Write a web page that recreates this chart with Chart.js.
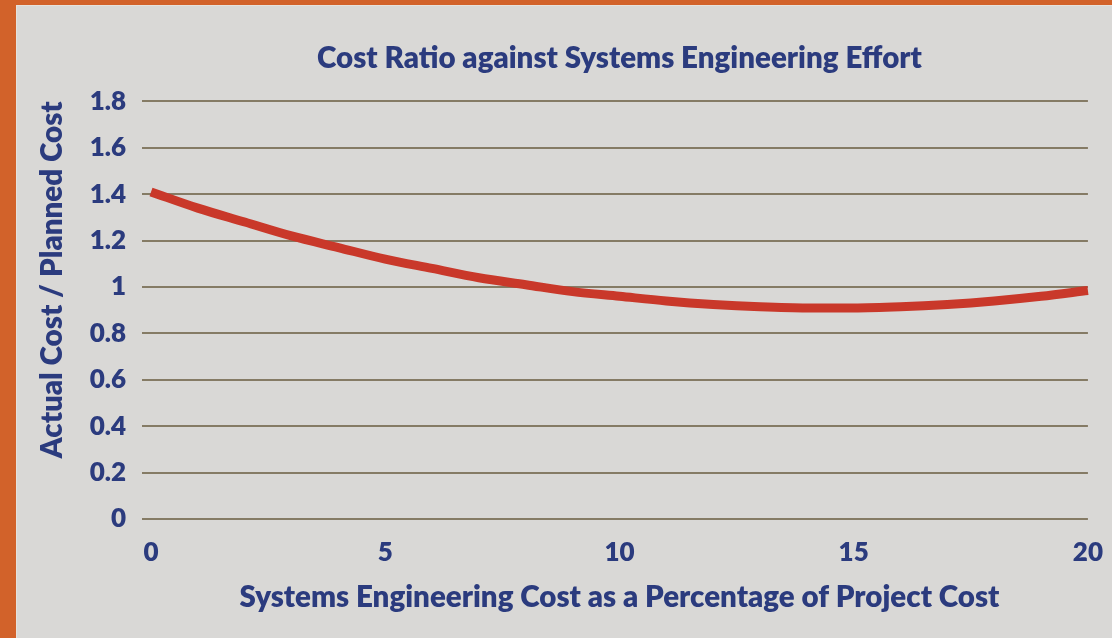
<!DOCTYPE html>
<html>
<head>
<meta charset="utf-8">
<script src="https://cdn.jsdelivr.net/npm/chart.js@4/dist/chart.umd.min.js"></script>
<style>
  html, body { margin: 0; padding: 0; }
  body { width: 1112px; height: 638px; background: #d2622a; overflow: hidden; position: relative; }
  #frame { position: absolute; left: 16px; top: 5px; width: 1096px; height: 633px;
           background: #d9d8d6; border-left: 1px solid #e6e2dc; border-top: 1px solid #e6e2dc; box-sizing: border-box; }
  #chart { position: absolute; left: 0; top: 0; }
</style>
</head>
<body>
<div id="frame"><canvas id="chart" width="1096" height="633"></canvas></div>
<script>
var navy = "#2b3b7e";
var gridColor = "#857b65";
var lineColor = "#c9382a";

// values
var sePercent = [0, 1, 2, 3, 4, 5, 6, 7, 8, 9, 10, 11, 12, 13, 14, 15, 16, 17, 18, 19, 20];
var costRatio = [1.41, 1.34, 1.28, 1.22, 1.17, 1.12, 1.08, 1.04, 1.01, 0.98, 0.96,
                 0.94, 0.925, 0.915, 0.91, 0.91, 0.915, 0.925, 0.94, 0.96, 0.985];
var xTicks = [0, 5, 10, 15, 20];
var yTicks = [0, 0.2, 0.4, 0.6, 0.8, 1, 1.2, 1.4, 1.6, 1.8];

var points = [];
for (var i = 0; i < sePercent.length; i++) {
  points.push({ x: sePercent[i], y: costRatio[i] });
}

var fontFamily = "Lato, 'Open Sans', sans-serif";
var tickFont = { family: fontFamily, size: 26, weight: 800 };
var titleFont = { family: fontFamily, size: 29.5, weight: 800 };

new Chart(document.getElementById("chart").getContext("2d"), {
  type: "line",
  data: {
    datasets: [{
      data: points,
      borderColor: lineColor,
      borderWidth: 9,
      pointRadius: 0,
      cubicInterpolationMode: "monotone",
      fill: false,
      clip: false
    }]
  },
  options: {
    responsive: false,
    animation: false,
    layout: { padding: { left: 0, right: 12, top: 0, bottom: 0 } },
    plugins: {
      legend: { display: false },
      tooltip: { enabled: false },
      title: {
        display: true,
        fullSize: false,
        text: "Cost Ratio against Systems Engineering Effort",
        color: navy,
        font: titleFont,
        padding: { top: 35, bottom: 25 }
      }
    },
    scales: {
      x: {
        type: "linear",
        min: 0,
        max: 20,
        afterBuildTicks: function (scale) {
          scale.ticks = xTicks.map(function (v) { return { value: v }; });
        },
        afterFit: function (scale) { scale.height = 120; },
        grid: { display: false },
        border: { display: false },
        ticks: {
          color: navy,
          padding: 10,
          maxRotation: 0,
          font: tickFont
        },
        title: {
          display: true,
          text: "Systems Engineering Cost as a Percentage of Project Cost",
          color: navy,
          font: titleFont,
          padding: { top: 0, bottom: 24 }
        }
      },
      y: {
        min: 0,
        max: 1.8,
        afterBuildTicks: function (scale) {
          scale.ticks = yTicks.map(function (v) { return { value: v }; });
        },
        afterFit: function (scale) { scale.width = 134; },
        grid: { color: gridColor, lineWidth: 2, tickLength: 9, drawTicks: true },
        border: { display: false },
        ticks: {
          color: navy,
          padding: 16,
          font: tickFont,
          callback: function (v) { return String(Math.round(v * 10) / 10); }
        },
        title: {
          display: true,
          align: "end",
          text: "Actual Cost / Planned Cost",
          color: navy,
          font: titleFont,
          padding: { top: 18, bottom: 0 }
        }
      }
    }
  }
});
</script>
</body>
</html>
